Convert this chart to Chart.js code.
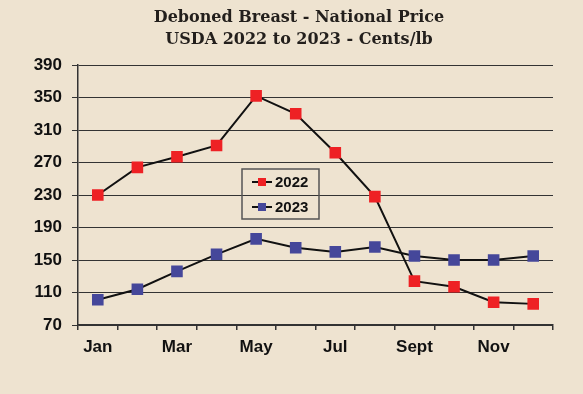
<!DOCTYPE html>
<html>
<head>
<meta charset="utf-8">
<script src="https://cdn.jsdelivr.net/npm/chart.js@4/dist/chart.umd.min.js"></script>
<style>
  html, body { margin: 0; padding: 0; background: #EEE3D0; }
  #wrap { width: 583px; height: 394px; position: relative; }
</style>
</head>
<body>
<div id="wrap"><canvas id="priceChart"></canvas></div>
<script>
// Months and monthly prices (cents/lb)
const months = ['Jan', 'Feb', 'Mar', 'Apr', 'May', 'Jun', 'Jul', 'Aug', 'Sept', 'Oct', 'Nov', 'Dec'];
const shownMonths = ['Jan', 'Mar', 'May', 'Jul', 'Sept', 'Nov'];
const price2022 = [230, 264, 277, 291, 352, 330, 282, 228, 124, 117, 98, 96];
const price2023 = [101, 114, 136, 157, 176, 165, 160, 166, 155, 150, 150, 155];
const yTicks = [70, 110, 150, 190, 230, 270, 310, 350, 390];
const titleLines = ['Deboned Breast - National Price', 'USDA 2022 to 2023 - Cents/lb'];

// title, centred a little right of the canvas middle like the original
const topTitle = {
    id: 'topTitle',
    afterDraw(chart) {
        const ctx = chart.ctx;
        ctx.save();
        ctx.fillStyle = '#231f1c';
        ctx.font = 'bold 16px "DejaVu Serif", serif';
        ctx.textAlign = 'center';
        ctx.textBaseline = 'middle';
        titleLines.forEach(function (t, i) {
            ctx.fillText(t, 299, 18 + i * 22);
        });
        ctx.restore();
    }
};

// draws the small boxed legend inside the plot
const boxLegend = {
    id: 'boxLegend',
    afterDraw(chart) {
        const ctx = chart.ctx;
        const x = 242, y = 169, w = 77, h = 50;
        ctx.save();
        ctx.strokeStyle = '#555';
        ctx.lineWidth = 1.5;
        ctx.strokeRect(x, y, w, h);
        chart.data.datasets.forEach(function (ds, i) {
            const cy = 182 + i * 25;
            ctx.strokeStyle = '#111';
            ctx.lineWidth = 2;
            ctx.beginPath();
            ctx.moveTo(252, cy);
            ctx.lineTo(272, cy);
            ctx.stroke();
            ctx.fillStyle = ds.pointBackgroundColor;
            ctx.fillRect(258, cy - 4, 8, 8);
            ctx.fillStyle = '#111';
            ctx.font = 'bold 15px "Liberation Sans", Arial, sans-serif';
            ctx.textBaseline = 'middle';
            ctx.fillText(ds.label, 275, cy + 1);
        });
        ctx.restore();
    }
};

const tickFont = { family: '"Liberation Sans", Arial, sans-serif', size: 17, weight: 'bold' };

const ctx = document.getElementById('priceChart').getContext('2d');
const priceChart = new Chart(ctx, {
    type: 'line',
    data: {
        labels: months,
        datasets: [{
            label: '2022',
            data: price2022,
            borderColor: '#111',
            borderWidth: 2,
            pointStyle: 'rect',
            pointRadius: 8.2,
            pointBorderWidth: 0,
            pointBackgroundColor: '#EE2124',
            tension: 0
        }, {
            label: '2023',
            data: price2023,
            borderColor: '#111',
            borderWidth: 2,
            pointStyle: 'rect',
            pointRadius: 8.2,
            pointBorderWidth: 0,
            pointBackgroundColor: '#45479A',
            tension: 0
        }]
    },
    options: {
        responsive: true,
        maintainAspectRatio: false,
        animation: false,
        layout: { padding: { left: 0, right: 30, top: 65, bottom: 0 } },
        plugins: {
            legend: { display: false },
            tooltip: { enabled: false },
            title: { display: false }
        },
        scales: {
            x: {
                offset: true,
                border: { color: '#333', width: 1.5 },
                grid: { offset: true, drawOnChartArea: false, color: '#333', tickLength: 5, lineWidth: 1.5 },
                ticks: {
                    autoSkip: false,
                    maxRotation: 0,
                    padding: 7,
                    color: '#111',
                    font: tickFont,
                    callback: function (val, i) {
                        const m = months[i];
                        return shownMonths.includes(m) ? m : '';
                    }
                },
                afterFit: function (axis) { axis.height = 69; }
            },
            y: {
                min: 70,
                max: 390,
                border: { color: '#333', width: 1.5 },
                grid: { color: '#333', lineWidth: 1, tickLength: 6 },
                afterBuildTicks: function (axis) {
                    axis.ticks = yTicks.map(function (v) { return { value: v }; });
                },
                ticks: {
                    padding: 10,
                    color: '#111',
                    font: tickFont
                },
                afterFit: function (axis) { axis.width = 78; }
            }
        }
    },
    plugins: [topTitle, boxLegend]
});
</script>
</body>
</html>
